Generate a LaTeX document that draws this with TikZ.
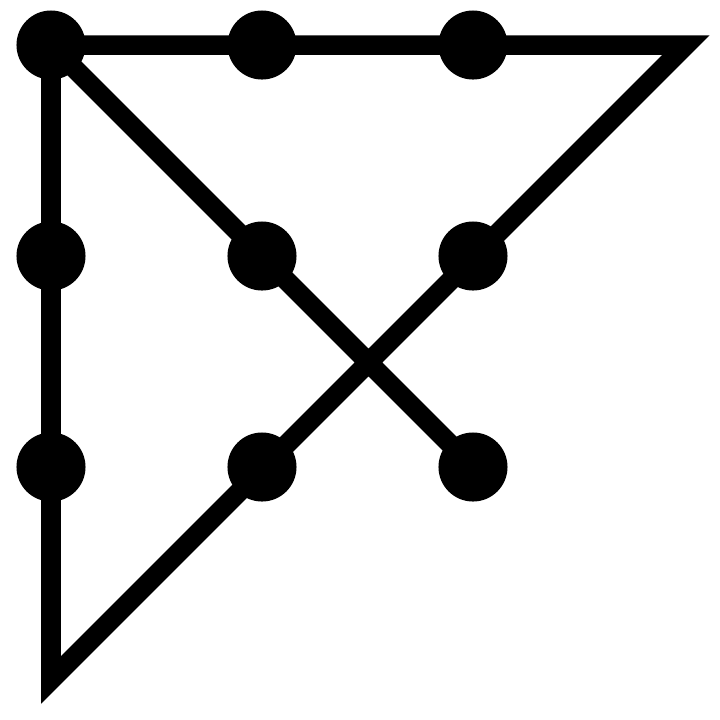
\documentclass[tikz,border=0pt]{standalone}
\usetikzlibrary{positioning}

\begin{document}
\begin{tikzpicture}[
			x=0.01cm, y=-0.01cm,
			dot/.style={circle, fill=black, inner sep=0pt, minimum size=0.69cm},
			track/.style={line width=0.195cm, line join=miter}
		]
			\useasboundingbox (0,0) rectangle (720,720);
			\foreach \r/\y in {1/45, 2/256, 3/467} {
				\foreach \c/\x in {1/51, 2/262, 3/473} {
					\node[dot] (d\r\c) at (\x,\y) {};
				}
			}
			\coordinate (tr) at (686,45);
			\coordinate (bl) at (51,680);
			\draw[track] (d33.center) -- (d11.center) -- (tr) -- (bl) -- (d11.center);
		\end{tikzpicture}
\end{document}
